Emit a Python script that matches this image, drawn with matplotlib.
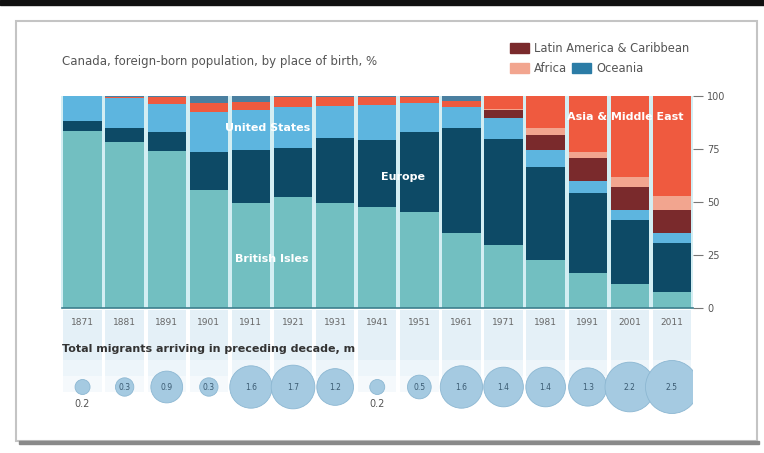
import numpy as np
import matplotlib.pyplot as plt
from matplotlib.patches import Rectangle

plt.rcParams['font.family'] = ['DejaVu Sans']

years = ['1871', '1881', '1891', '1901', '1911', '1921', '1931', '1941',
         '1951', '1961', '1971', '1981', '1991', '2001', '2011']
british = [83.6, 78.2, 74.0, 55.7, 49.4, 52.2, 49.4, 47.5, 45.4, 35.2, 29.7, 22.6, 16.7, 11.3, 7.7]
europe = [4.7, 6.6, 9.2, 18.0, 25.1, 23.1, 30.6, 31.7, 37.8, 49.6, 49.9, 44.1, 37.7, 30.2, 22.8]
usa = [11.7, 14.2, 13.0, 18.9, 18.9, 19.7, 15.3, 16.5, 13.4, 10.2, 9.9, 7.7, 5.6, 4.7, 4.7]
latin = [0, 0, 0, 0, 0, 0, 0, 0, 0, 0, 3.8, 7.2, 10.6, 11.0, 11.0]
africa = [0, 0, 0, 0, 0, 0, 0, 0, 0, 0, 0.8, 3.2, 3.1, 4.4, 6.6]
asia = [0, 0.7, 3.5, 4.0, 3.9, 4.5, 4.2, 3.8, 2.8, 2.5, 5.9, 15.2, 26.3, 38.4, 47.2]
oceania = [0, 0.3, 0.3, 3.4, 2.7, 0.5, 0.5, 0.5, 0.6, 2.5, 0, 0, 0, 0, 0]
migrants = [0.2, 0.3, 0.9, 0.3, 1.6, 1.7, 1.2, 0.2, 0.5, 1.6, 1.4, 1.4, 1.3, 2.2, 2.5]

series = [british, europe, usa, latin, africa, asia, oceania]
colors = ['#72bfc1', '#0d4a66', '#5db5df', '#7a2a2c', '#f2a58f', '#ef5a3f', '#4a7fa0']

W, H = 764, 453
fig = plt.figure(figsize=(W / 100, H / 100), dpi=100)
fig.patch.set_facecolor('white')

# card frame
fig.add_artist(Rectangle((0, 1 - 5 / H), 1, 5 / H, transform=fig.transFigure, color='#111111'))
fig.add_artist(Rectangle((16 / W, 12 / H), (757 - 16) / W, (432 - 12) / H, transform=fig.transFigure,
                         fill=False, ec='#c4c4c4', lw=1.5))
fig.add_artist(Rectangle((19 / W, 9 / H), (757 - 17) / W, 3 / H, transform=fig.transFigure,
                         color='#8a8a8a'))

x = np.arange(len(years))
left = 61.5 / W
width = (693 - 61.5) / W
ax = fig.add_axes([left, (H - 308) / H, width, (308 - 96) / H])
ax.set_facecolor('#d3eef3')
bottom = np.zeros(len(years))
for vals, c in zip(series, colors):
    ax.bar(x, vals, bottom=bottom, width=0.91, color=c, linewidth=0)
    bottom += np.array(vals)
ax.set_xlim(-0.5, len(years) - 0.5)
ax.set_ylim(0, 100)
for s in ['top', 'left', 'right']:
    ax.spines[s].set_visible(False)
ax.spines['bottom'].set_color('#3d7f8e')
ax.spines['bottom'].set_linewidth(1.2)
ax.yaxis.tick_right()
ax.set_yticks([0, 25, 50, 75, 100])
ax.tick_params(axis='y', length=7, color='#777777', labelsize=7, labelcolor='#555555', pad=3, direction='out')
ax.set_xticks([])

ax.text(4.4, 85, 'United States', color='white', fontsize=8, fontweight='bold', ha='center', va='center')
ax.text(4.5, 23, 'British Isles', color='white', fontsize=8, fontweight='bold', ha='center', va='center')
ax.text(7.6, 62, 'Europe', color='white', fontsize=8, fontweight='bold', ha='center', va='center')
ax.text(12.9, 90, 'Asia & Middle East', color='white', fontsize=8, fontweight='bold', ha='center', va='center')

# lower panel: migrants
ax2 = fig.add_axes([left, (H - 425) / H, width, (425 - 309) / H])
ax2.set_xlim(-0.5, len(years) - 0.5)
ax2.set_ylim(425, 309)
ax2.axis('off')
ax2.bar(x, 50, bottom=309.5, width=0.91, color='#e4f0f7', linewidth=0, zorder=0)
ax2.bar(x, 16, bottom=359.5, width=0.91, color='#edf5fa', linewidth=0, zorder=0)
ax2.bar(x, 16, bottom=375.5, width=0.91, color='#f5f9fc', linewidth=0, zorder=0)
for xi, yr in zip(x, years):
    ax2.text(xi, 322, yr, fontsize=6.5, color='#666666', ha='center', va='center', zorder=3)
ax2.text(-0.5, 349, 'Total migrants arriving in preceding decade, m', fontsize=8,
         fontweight='bold', color='#333333', va='center', ha='left', zorder=3)
diam = 33.5 * np.sqrt(migrants) * 0.72
ax2.scatter(x, [387] * len(x), s=diam ** 2, color='#a5cae1', edgecolors='#8cb7d2', linewidths=0.6, zorder=2)
for xi, v in zip(x, migrants):
    if v < 0.25:
        ax2.text(xi, 404, f'{v}', fontsize=7, color='#555555', ha='center', va='center')
    else:
        ax2.text(xi, 387, f'{v}', fontsize=5.5, color='#3b5b72', ha='center', va='center', zorder=3)

# title and legend
fig.text(62 / W, 1 - 62 / H, 'Canada, foreign-born population, by place of birth, %', fontsize=8.5,
         color='#555555', va='center')
leg = [('Latin America & Caribbean', '#7a2a2c', 510, 48), ('Africa', '#f2a58f', 510, 68),
       ('Oceania', '#2b7ca6', 572, 68)]
for name, c, lx, ly in leg:
    fig.add_artist(Rectangle((lx / W, 1 - (ly + 5) / H), 19 / W, 10 / H, transform=fig.transFigure, color=c))
    fig.text((lx + 24) / W, 1 - ly / H, name, fontsize=8.3, color='#555555', va='center')

fig.savefig('out.png', dpi=100)
